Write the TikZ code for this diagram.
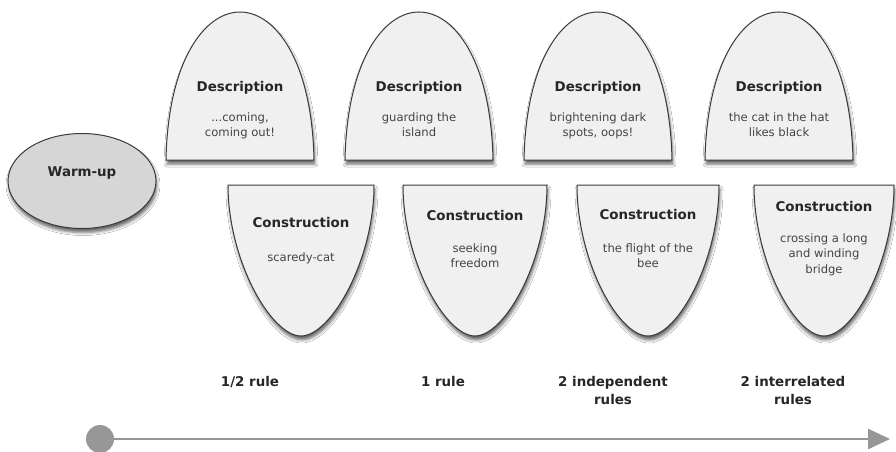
\documentclass[tikz,border=0pt]{standalone}
\usepackage{fontspec}
\setmainfont{DejaVu Sans}
\usetikzlibrary{shadows.blur,arrows.meta,shapes.geometric}
\definecolor{shapefill}{HTML}{F0F0F0}
\definecolor{shapeline}{HTML}{3A3A3A}
\definecolor{warmfill}{HTML}{D6D6D6}
\definecolor{axisgray}{HTML}{979797}
\definecolor{headtext}{HTML}{262626}
\definecolor{subtext}{HTML}{444444}
\tikzset{
  shadowed/.style={blur shadow={shadow xshift=1pt, shadow yshift=-4pt, shadow blur radius=3pt, shadow opacity=60}},
  shapebox/.style={fill=shapefill, draw=shapeline, line width=1pt, shadowed},
  headlbl/.style={text=headtext, font=\fontsize{13.4}{15}\selectfont\bfseries, inner sep=0pt},
  sublbl/.style={text=subtext, font=\fontsize{11.6}{15.5}\selectfont, align=center, inner sep=0pt, anchor=north},
  rulelbl/.style={text=headtext, font=\fontsize{13.4}{18}\selectfont\bfseries, align=center, inner sep=0pt, anchor=north},
}
\newcommand{\domeshape}[1]{%
  \path[shapebox] (#1-74,160) .. controls (#1-72,60) and (#1-35,12) .. (#1,12)
    .. controls (#1+35,12) and (#1+72,60) .. (#1+74,160) -- cycle;}
\newcommand{\shieldshape}[2]{%
  \path[shapebox] (#1-#2,185) -- (#1+#2,185) .. controls (#1+#2,260) and (#1+30,336) .. (#1,336)
    .. controls (#1-30,336) and (#1-#2,260) .. (#1-#2,185) -- cycle;}
\begin{document}
\begin{tikzpicture}[x=1pt,y=-1pt]
\useasboundingbox[fill=white] (0,0) rectangle (896,452);
% warm-up
\node[ellipse, minimum width=148pt, minimum height=95pt, fill=warmfill, draw=shapeline, line width=1pt, shadowed] (warm) at (82,181) {};
\node[headlbl] (warmlbl) at (82,173) {Warm-up};
% descriptions
\domeshape{240}
\domeshape{419}
\domeshape{598}
\domeshape{779}
\node[headlbl] (d1h) at (240,88) {Description};
\node[headlbl] (d2h) at (419,88) {Description};
\node[headlbl] (d3h) at (598,88) {Description};
\node[headlbl] (d4h) at (779,88) {Description};
\node[sublbl] (d1s) at (240,112) {...coming,\\coming out!};
\node[sublbl] (d2s) at (419,112) {guarding the\\island};
\node[sublbl] (d3s) at (598,112) {brightening dark\\spots, oops!};
\node[sublbl] (d4s) at (779,112) {the cat in the hat\\likes black};
% constructions
\shieldshape{301}{73}
\shieldshape{475}{72}
\shieldshape{648}{71}
\shieldshape{824}{70}
\node[headlbl] (c1h) at (301,223) {Construction};
\node[headlbl] (c2h) at (475,216) {Construction};
\node[headlbl] (c3h) at (648,215) {Construction};
\node[headlbl] (c4h) at (824,207) {Construction};
\node[sublbl] (c1s) at (301,252) {scaredy-cat};
\node[sublbl] (c2s) at (475,243) {seeking\\freedom};
\node[sublbl] (c3s) at (648,243) {the flight of the\\bee};
\node[sublbl] (c4s) at (824,233) {crossing a long\\and winding\\bridge};
% rule labels
\node[rulelbl] (r1) at (250,376) {1/2 rule};
\node[rulelbl] (r2) at (443,376) {1 rule};
\node[rulelbl] (r3) at (613,376) {2 independent\\rules};
\node[rulelbl] (r4) at (793,376) {2 interrelated\\rules};
% axis
\node[circle, fill=axisgray, minimum size=28pt, inner sep=0pt] (start) at (100,439) {};
\coordinate (end) at (890,439);
\draw[axisgray, line width=2.7pt, -{Triangle[length=22pt,width=20pt]}] (start.center) -- (end);
\end{tikzpicture}
\end{document}
